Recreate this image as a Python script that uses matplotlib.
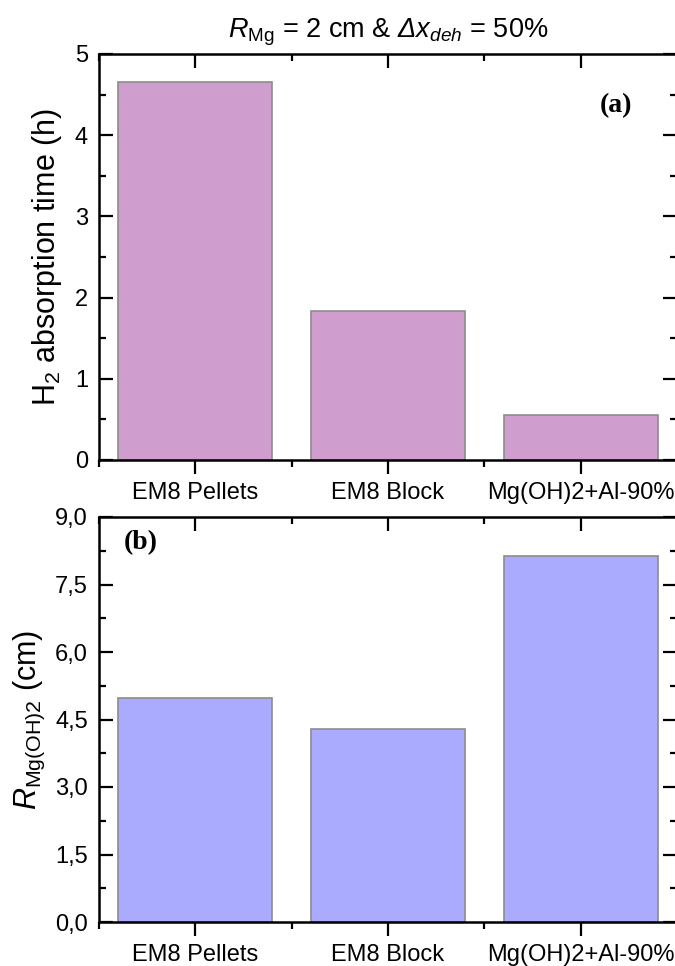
import matplotlib.pyplot as plt
from matplotlib.ticker import MultipleLocator, FuncFormatter

plt.rcParams['font.family'] = ['Liberation Sans', 'DejaVu Sans']
plt.rcParams['mathtext.fontset'] = 'custom'
plt.rcParams['mathtext.rm'] = 'Liberation Sans'
plt.rcParams['mathtext.it'] = 'Liberation Sans:italic'
plt.rcParams['mathtext.bf'] = 'Liberation Sans:bold'
# sf slot used for an italic capital Delta (the it slot keeps Greek upright)
plt.rcParams['mathtext.sf'] = 'Liberation Sans:italic'

# Data
categories = ['EM8 Pellets', 'EM8 Block', 'Mg(OH)2+Al-90%']
absorption_time = [4.65, 1.84, 0.56]     # h
r_mgoh2 = [4.97, 4.29, 8.14]             # cm

pos = [1, 2, 3]

fig = plt.figure(figsize=(6.75, 9.66), dpi=100)
left = 99 / 675
width = (677 - 99) / 675
ax1 = fig.add_axes([left, 1 - 460 / 966, width, (460 - 54) / 966])
ax2 = fig.add_axes([left, 1 - 922 / 966, width, (922 - 517) / 966])


def style_axis(ax):
    for s in ax.spines.values():
        s.set_linewidth(1.8)
    ax.set_xlim(0.5, 3.5)
    ax.set_xticks(pos)
    ax.set_xticklabels(categories, fontsize=17)
    ax.xaxis.set_minor_locator(MultipleLocator(1.0, offset=0.5))
    ax.tick_params(axis='x', which='major', direction='out', length=10, width=1.6,
                   top=True, pad=6)
    ax.tick_params(axis='x', which='minor', direction='out', length=5, width=1.6, top=True)
    ax.tick_params(axis='y', which='major', direction='in', length=10, width=1.6,
                   right=True, labelsize=17, pad=8)
    ax.tick_params(axis='y', which='minor', direction='in', length=5, width=1.6, right=True)
    # top ticks point into the plot
    for t in ax.xaxis.get_major_ticks() + ax.xaxis.get_minor_ticks():
        t.tick2line.set_marker(3)


# (a) absorption time
ax1.bar(pos, absorption_time, width=0.8, color='#CF9ECF', edgecolor='#8C8C8C', linewidth=1.2)
ax1.set_ylim(0, 5)
ax1.yaxis.set_major_locator(MultipleLocator(1))
ax1.yaxis.set_minor_locator(MultipleLocator(0.5))
style_axis(ax1)
ax1.set_ylabel(r'H$_2$ absorption time (h)', fontsize=22, labelpad=8)
ax1.text(0.894, 0.874, '(a)', transform=ax1.transAxes, ha='center', va='center',
         fontsize=20, fontweight='bold', family='Liberation Serif')
ax1.set_title(r'$\mathit{R}_{\mathrm{Mg}}$ = 2 cm & $\mathsf{Δx}_{\mathit{deh}}$ = 50%',
              fontsize=19.5, pad=12)

# (b) R_Mg(OH)2
ax2.bar(pos, r_mgoh2, width=0.8, color='#AAAAFF', edgecolor='#8C8C8C', linewidth=1.2)
ax2.set_ylim(0, 9)
ax2.yaxis.set_major_locator(MultipleLocator(1.5))
ax2.yaxis.set_minor_locator(MultipleLocator(0.75))
ax2.yaxis.set_major_formatter(FuncFormatter(lambda v, p: f'{v:.1f}'.replace('.', ',')))
style_axis(ax2)
ax2.set_ylabel(r'$\mathit{R}_{\mathrm{Mg(OH)2}}$ (cm)', fontsize=22, labelpad=6)
ax2.text(0.073, 0.936, '(b)', transform=ax2.transAxes, ha='center', va='center',
         fontsize=20, fontweight='bold', family='Liberation Serif')

fig.savefig('out.png', dpi=100)
